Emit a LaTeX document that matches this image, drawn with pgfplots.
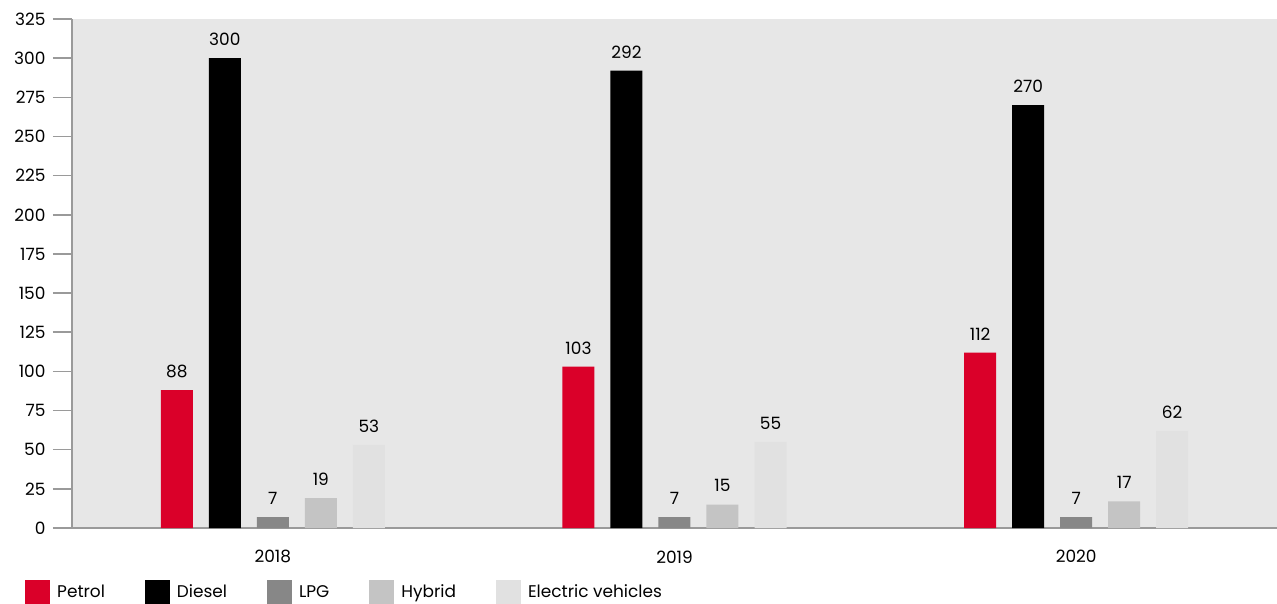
\documentclass[border=0pt]{standalone}
\usepackage{pgfplots}
\pgfplotsset{compat=1.18}
\usepackage{fontspec}
\setmainfont{Poppins}
\definecolor{petrol}{HTML}{DA0029}
\definecolor{diesel}{HTML}{000000}
\definecolor{lpg}{HTML}{878787}
\definecolor{hybrid}{HTML}{C4C4C4}
\definecolor{ev}{HTML}{E1E1E1}
\definecolor{bggray}{HTML}{E7E7E7}
\definecolor{axgray}{HTML}{9A9A9A}
\newcommand{\lblfont}{\fontsize{17}{20}\selectfont}
\begin{document}
\begin{tikzpicture}
\begin{axis}[
  at={(0,0)}, anchor=south west,
  scale only axis, width=1205bp, height=509bp,
  xmin=-0.5, xmax=2.5, ymin=0, ymax=325,
  axis background/.style={fill=bggray},
  axis lines*=left,
  axis line style={draw=axgray, line width=1.5bp},
  ytick={0,25,...,325},
  xtick={0,1,2}, xticklabels={2018,2019,2020},
  x tick style={draw=none},
  y tick style={draw=axgray, line width=1.5bp},
  major tick length=19bp, tick align=outside,
  tick label style={font=\lblfont, black},
  yticklabel style={xshift=-4bp},
  /pgf/number format/assume math mode=true,
  ybar=16bp, bar width=32bp,
  nodes near coords,
  every node near coord/.append style={font=\lblfont, black, yshift=9bp},
  legend columns=5,
  legend style={at={(-0.039,-0.126)}, anchor=west, draw=none, fill=none,
    inner sep=0pt, font=\lblfont,
    /tikz/every odd column/.append style={column sep=5bp},
    /tikz/every even column/.append style={column sep=38bp}},
  every axis plot post/.append style={draw=none,
    legend image code/.code={\fill[##1] (0bp,-12.5bp) rectangle (25bp,12.5bp);}},
  legend cell align=left,
]
\addplot[fill=petrol] coordinates {(0,88) (1,103) (2,112)};
\addplot[fill=diesel] coordinates {(0,300) (1,292) (2,270)};
\addplot[fill=lpg] coordinates {(0,7) (1,7) (2,7)};
\addplot[fill=hybrid] coordinates {(0,19) (1,15) (2,17)};
\addplot[fill=ev] coordinates {(0,53) (1,55) (2,62)};
\legend{Petrol,Diesel,LPG,Hybrid,Electric vehicles}
\end{axis}
\pgfresetboundingbox
\path (-72bp,-76bp) rectangle (1205bp,528bp);
\end{tikzpicture}
\end{document}
